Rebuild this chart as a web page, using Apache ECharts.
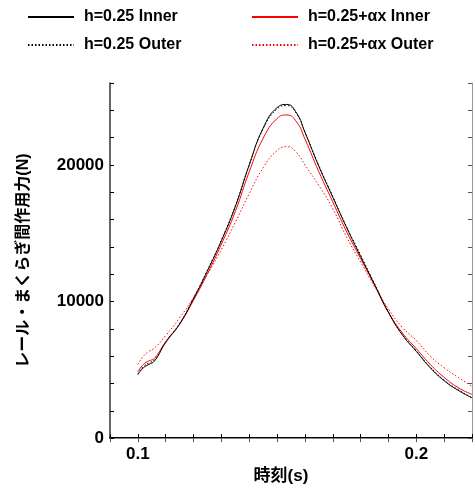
<html><head><meta charset='utf-8'>
<script src='https://cdn.jsdelivr.net/npm/echarts@6/dist/echarts.min.js'></script>
<style>
body{margin:0;background:#fff;}
#container{width:475px;height:490px;}
</style>
</head><body>
<div id="container"></div>
<script type="text/javascript">
// 時刻(s)
var times = [0.100, 0.102, 0.104, 0.106, 0.110, 0.115, 0.120, 0.125, 0.130, 0.135, 0.140, 0.145, 0.150, 0.1535,
  0.157, 0.160, 0.165, 0.170, 0.175, 0.180, 0.185, 0.190, 0.195, 0.200, 0.205, 0.210, 0.215, 0.220];
// レール・まくらぎ間作用力(N)
var innerBase = [4640, 5150, 5400, 5650, 7000, 8350, 10200, 12250, 14450, 16950, 20000, 22700, 24200, 24430,
  23800, 22400, 19900, 17640, 15400, 13300, 11250, 9200, 7550, 6350, 5150, 4200, 3500, 2950];
var outerBase = [4700, 5250, 5500, 5750, 7050, 8400, 10250, 12300, 14500, 17000, 20000, 22650, 24100, 24350,
  23750, 22400, 19950, 17700, 15450, 13400, 11300, 9250, 7600, 6400, 5200, 4250, 3550, 2950];
var innerAlpha = [4850, 5400, 5650, 5850, 7050, 8350, 10100, 12050, 14200, 16600, 19500, 21950, 23400, 23660,
  23150, 21900, 19500, 17300, 15100, 13150, 11200, 9200, 7700, 6550, 5400, 4450, 3700, 3200];
var outerAlpha = [5400, 6000, 6350, 6600, 7500, 8800, 10300, 12000, 13800, 15800, 17900, 19800, 21050, 21340,
  20900, 20000, 18500, 16800, 14700, 12900, 11100, 9450, 8100, 7150, 6000, 5150, 4450, 3800];

var xTickLabels = [0.1, 0.2];
var yTickLabels = [0, 10000, 20000];

function pairs(vals) {
  return times.map(function (t, i) { return [t, vals[i]]; });
}
var font = "'Liberation Sans', 'Noto Sans CJK JP', sans-serif";
var legendText = { fontSize: 16, lineHeight: 16, fontWeight: 'bold', color: '#000', fontFamily: font, padding: [0, 0, 0, 5] };

var myContainer = echarts.init(document.getElementById('container'));
myContainer.setOption({
  animation: false,
  textStyle: { fontFamily: font },
  grid: { left: 110, right: 1, top: 83, bottom: 43, containLabel: false },
  legend: [{
    orient: 'vertical', left: 22, top: 4, itemWidth: 46, itemHeight: 14, itemGap: 12,
    itemStyle: { opacity: 0 },
    textStyle: legendText,
    data: ['h=0.25 Inner', 'h=0.25 Outer']
  }, {
    orient: 'vertical', left: 246, top: 4, itemWidth: 46, itemHeight: 14, itemGap: 12,
    itemStyle: { opacity: 0 },
    textStyle: legendText,
    data: ['h=0.25+αx Inner', 'h=0.25+αx Outer']
  }],
  xAxis: [{
    type: 'value', min: 0.09, max: 0.22, interval: 0.01,
    name: '時刻(s)', nameLocation: 'middle', nameGap: 22,
    nameTextStyle: { fontSize: 17, fontWeight: 'bold', color: '#000', fontFamily: font, padding: [0, 20, 0, 0] },
    axisLine: { lineStyle: { color: '#000', width: 2 } },
    axisTick: { inside: true, length: 4, lineStyle: { color: '#000' } },
    axisLabel: {
      fontSize: 17, fontWeight: 'bold', color: '#000', margin: 8,
      formatter: function (v) {
        for (var i = 0; i < xTickLabels.length; i++) {
          if (Math.abs(v - xTickLabels[i]) < 1e-6) return String(xTickLabels[i]);
        }
        return '';
      }
    },
    splitLine: { show: false }
  }, {
    type: 'value', position: 'top', min: 0.09, max: 0.22, interval: 0.01,
    axisLine: { show: true, lineStyle: { color: '#888', width: 1 } },
    axisTick: { inside: true, length: 4, lineStyle: { color: '#555' } },
    axisLabel: { show: false }, splitLine: { show: false }
  }],
  yAxis: [{
    type: 'value', min: 0, max: 26000, interval: 2000,
    name: 'レール・まくらぎ間作用力(N)', nameLocation: 'middle', nameGap: 78,
    nameTextStyle: { fontSize: 16, fontWeight: 'bold', color: '#000', fontFamily: font },
    axisLine: { show: true, lineStyle: { color: '#333', width: 1.5 } },
    axisTick: { inside: true, length: 4, lineStyle: { color: '#000' } },
    axisLabel: {
      fontSize: 17, fontWeight: 'bold', color: '#000', margin: 6,
      formatter: function (v) { return yTickLabels.indexOf(v) >= 0 ? String(v) : ''; }
    },
    splitLine: { show: false }
  }, {
    type: 'value', position: 'right', min: 0, max: 26000, interval: 2000,
    axisLine: { show: true, lineStyle: { color: '#999', width: 1 } },
    axisTick: { inside: true, length: 4, lineStyle: { color: '#555' } },
    axisLabel: { show: false }, splitLine: { show: false }
  }],
  series: [{
    name: 'h=0.25 Outer', type: 'line', data: pairs(outerBase), smooth: true, symbol: 'none',
    itemStyle: { color: '#000' },
    lineStyle: { color: '#000', width: 1, type: [1.5, 2] }
  }, {
    name: 'h=0.25+αx Outer', type: 'line', data: pairs(outerAlpha), smooth: true, symbol: 'none',
    itemStyle: { color: '#f00' },
    lineStyle: { color: '#f00', width: 1, type: [1.5, 2] }
  }, {
    name: 'h=0.25+αx Inner', type: 'line', data: pairs(innerAlpha), smooth: true, symbol: 'none',
    itemStyle: { color: '#f00' },
    lineStyle: { color: '#f00', width: 1 }
  }, {
    name: 'h=0.25 Inner', type: 'line', data: pairs(innerBase), smooth: true, symbol: 'none',
    itemStyle: { color: '#000' },
    lineStyle: { color: '#000', width: 1 }
  }]
});
</script>
</body></html>
